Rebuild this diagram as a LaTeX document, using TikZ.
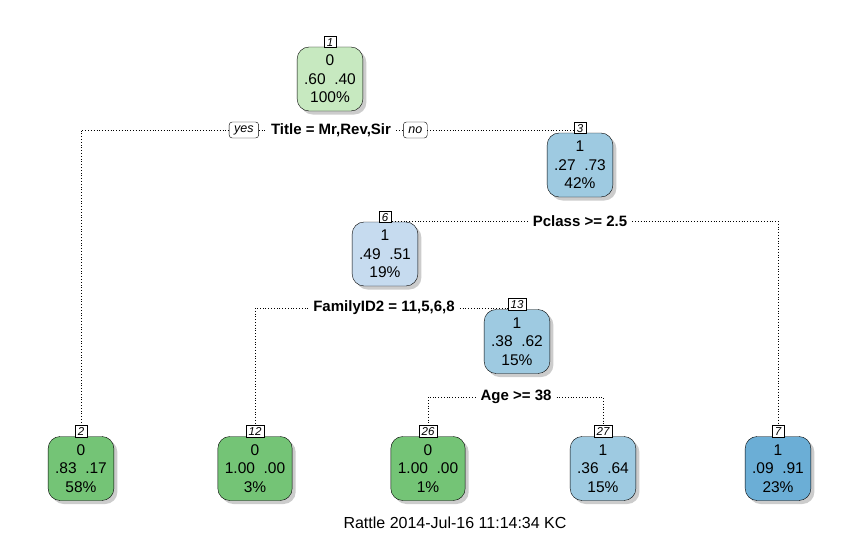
\documentclass[tikz,border=0pt]{standalone}
\usepackage{fontspec}
\setmainfont{Liberation Sans}
\usetikzlibrary{positioning,shadows}
\definecolor{grnlight}{HTML}{C7E9C0}
\definecolor{grndark}{HTML}{74C476}
\definecolor{blulight}{HTML}{C6DBEF}
\definecolor{blumid}{HTML}{9ECAE1}
\definecolor{bludark}{HTML}{6BAED6}

\begin{document}
\begin{tikzpicture}[x=1pt, y=-1pt,
		box/.style = {draw, rounded corners=12pt, minimum width=60pt, minimum height=64pt,
				inner xsep=7pt, inner ysep=1pt, align=center, font=\fontsize{15.5}{18.5}\selectfont,
				execute at begin node={\rule{0pt}{22pt}},
				drop shadow={shadow xshift=3.5pt, shadow yshift=-3.5pt, fill=black!40}},
		numbox/.style = {draw, fill=white, inner xsep=2.5pt, inner ysep=0.8pt, minimum width=12pt,
				text height=9.5pt, text depth=0.5pt, font=\fontsize{11.5}{11.5}\selectfont\itshape},
		split/.style = {font=\fontsize{15}{15}\selectfont\bfseries, inner sep=5pt},
		yn/.style = {draw, fill=white, rounded corners=3pt, inner xsep=5pt, inner ysep=3pt,
				minimum height=16pt, font=\fontsize{12.5}{12.5}\selectfont\itshape},
		link/.style = {dotted, line width=0.8pt},
	]
	\useasboundingbox (0,0) rectangle (858,535);

	% inner nodes
	\node[box, fill=grnlight] (n1) at (330,79) {0\\.60\ \ .40\\100\%};
	\node[box, fill=blumid] (n3) at (580,165) {1\\.27\ \ .73\\42\%};
	\node[box, fill=blulight] (n6) at (385,254) {1\\.49\ \ .51\\19\%};
	\node[box, fill=blumid] (n13) at (517,341.5) {1\\.38\ \ .62\\15\%};

	% leaves
	\node[box, fill=grndark] (n2) at (81,468.5) {0\\.83\ \ .17\\58\%};
	\node[box, fill=grndark] (n12) at (255,468.5) {0\\1.00\ \ .00\\3\%};
	\node[box, fill=grndark] (n26) at (428,468.5) {0\\1.00\ \ .00\\1\%};
	\node[box, fill=blumid] (n27) at (603,468.5) {1\\.36\ \ .64\\15\%};
	\node[box, fill=bludark] (n7) at (778,468.5) {1\\.09\ \ .91\\23\%};

	% node numbers
	\foreach \k in {1,3,6,13,2,12,26,27,7}
		\node[numbox, above=-1pt of n\k] (l\k) {\k};

	% splits
	\node[split] (s1) at (331,130) {Title = Mr,Rev,Sir};
	\node[yn, left=7pt of s1] (yes) {yes};
	\node[yn, right=7pt of s1] (no) {no};
	\node[split] (s3) at (580,221) {Pclass >= 2.5};
	\node[split] (s6) at (384,308) {FamilyID2 = 11,5,6,8};
	\node[split] (s13) at (516,397) {Age >= 38};

	\draw[link] (l2.north) |- (yes.west);
	\draw[link] (yes.east) -- (s1.west);
	\draw[link] (s1.east) -- (no.west);
	\draw[link] (no.east) -- (no.east -| l3.west);

	\draw[link] (s3.west) -- (s3.west -| l6.east);
	\draw[link] (s3.east) -| (l7.north);

	\draw[link] (s6.west) -| (l12.north);
	\draw[link] (s6.east) -- (s6.east -| l13.west);

	\draw[link] (s13.west) -| (l26.north);
	\draw[link] (s13.east) -| (l27.north);

	\node[font=\fontsize{16}{16}\selectfont] (stamp) at (455,523) {Rattle 2014-Jul-16 11:14:34 KC};
\end{tikzpicture}
\end{document}
